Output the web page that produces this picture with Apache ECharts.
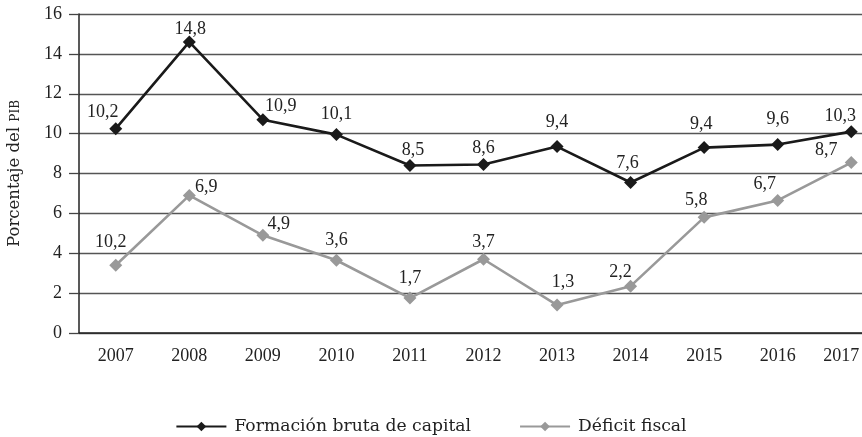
<!DOCTYPE html>
<html>
<head>
<meta charset="utf-8">
<script src="https://cdn.jsdelivr.net/npm/echarts@6/dist/echarts.min.js"></script>
<style>
html,body{margin:0;padding:0;background:#fff;}
#c{width:862px;height:437px;}
</style>
</head>
<body>
<div id="c"></div>
<script>
var years = ['2007','2008','2009','2010','2011','2012','2013','2014','2015','2016','2017'];
var formacionValues = [10.25, 14.6, 10.7, 9.95, 8.4, 8.45, 9.35, 7.55, 9.3, 9.45, 10.1];
var formacionLabels = ['10,2','14,8','10,9','10,1','8,5','8,6','9,4','7,6','9,4','9,6','10,3'];
var deficitValues = [3.4, 6.9, 4.9, 3.65, 1.75, 3.7, 1.4, 2.35, 5.8, 6.65, 8.55];
var deficitLabels = ['10,2','6,9','4,9','3,6','1,7','3,7','1,3','2,2','5,8','6,7','8,7'];
var yTicks = [0, 2, 4, 6, 8, 10, 12, 14, 16];

// label layout tweaks (offset of label centre from marker)
var formacionShift = [[-13,-16],[1,-13],[18,-13],[0,-20],[3,-15],[0,-16],[0,-24],[-3,-19],[-3,-23],[0,-25],[-11,-15]];
var deficitShift = [[-5,-23],[17,-8],[16,-11],[0,-20],[0,-20],[0,-17],[6,-23],[-10,-14],[-8,-17],[-13,-16],[-25,-12]];

var NUMFONT = 'Liberation Serif';
var NFS = 18;
var TXTFONT = 'DejaVu Serif';
var TFS = 17.2;

function buildData(values, labels, shifts){
  return values.map(function(v, i){
    return {
      value: v,
      label: {formatter: labels[i], offset: shifts[i]}
    };
  });
}

var chart = echarts.init(document.getElementById('c'), null, {renderer:'canvas'});
chart.setOption({
  animation: false,
  backgroundColor: '#fff',
  textStyle: {fontFamily: NUMFONT},
  grid: {left: 79, right: -26, top: 14, bottom: 104, containLabel: false, outerBoundsMode: 'none'},
  legend: {
    top: 413,
    left: 'center',
    itemWidth: 50,
    itemHeight: 12,
    itemGap: 48,
    textStyle: {fontFamily: TXTFONT, fontSize: TFS, color: '#222', padding: [0, 0, 0, 3]},
    data: ['Formación bruta de capital', 'Déficit fiscal']
  },
  xAxis: {
    type: 'category',
    data: years,
    boundaryGap: true,
    axisLine: {show: true, lineStyle: {color: '#222', width: 1.5}},
    axisTick: {show: false},
    axisLabel: {
      interval: 0,
      fontFamily: NUMFONT, fontSize: NFS, color: '#222', margin: 14,
      formatter: function(v, i){ return i === years.length - 1 ? '{last|' + v + '}' : v; },
      rich: {last: {fontFamily: NUMFONT, fontSize: NFS, color: '#222', padding: [0, 20, 0, 0]}}
    },
    splitLine: {show: false}
  },
  yAxis: {
    type: 'value',
    min: yTicks[0],
    max: yTicks[yTicks.length - 1],
    interval: 2,
    name: '{a|Porcentaje del }{b|PIB}',
    nameLocation: 'middle',
    nameGap: 56,
    nameRotate: 90,
    nameTextStyle: {
      rich: {
        a: {fontFamily: TXTFONT, fontSize: 16.5, color: '#222'},
        b: {fontFamily: TXTFONT, fontSize: 12, color: '#222', padding: [3, 0, 0, 0]}
      }
    },
    axisLine: {show: true, lineStyle: {color: '#222', width: 1.5}},
    axisTick: {show: true, inside: false, length: 10, lineStyle: {color: '#444', width: 1.3}},
    axisLabel: {fontFamily: NUMFONT, fontSize: NFS, color: '#222', margin: 17},
    splitLine: {show: true, lineStyle: {color: '#555', width: 1.3}}
  },
  series: [
    {
      name: 'Formación bruta de capital',
      type: 'line',
      data: buildData(formacionValues, formacionLabels, formacionShift),
      symbol: 'diamond',
      symbolSize: 13,
      showAllSymbol: true,
      lineStyle: {color: '#1a1a1a', width: 2.6},
      itemStyle: {color: '#1a1a1a'},
      label: {show: true, position: 'inside', fontFamily: NUMFONT, fontSize: NFS, color: '#222'},
      z: 3
    },
    {
      name: 'Déficit fiscal',
      type: 'line',
      data: buildData(deficitValues, deficitLabels, deficitShift),
      symbol: 'diamond',
      symbolSize: 13,
      showAllSymbol: true,
      lineStyle: {color: '#999999', width: 2.6},
      itemStyle: {color: '#999999'},
      label: {show: true, position: 'inside', fontFamily: NUMFONT, fontSize: NFS, color: '#222'},
      z: 2
    }
  ]
});
</script>
</body>
</html>
